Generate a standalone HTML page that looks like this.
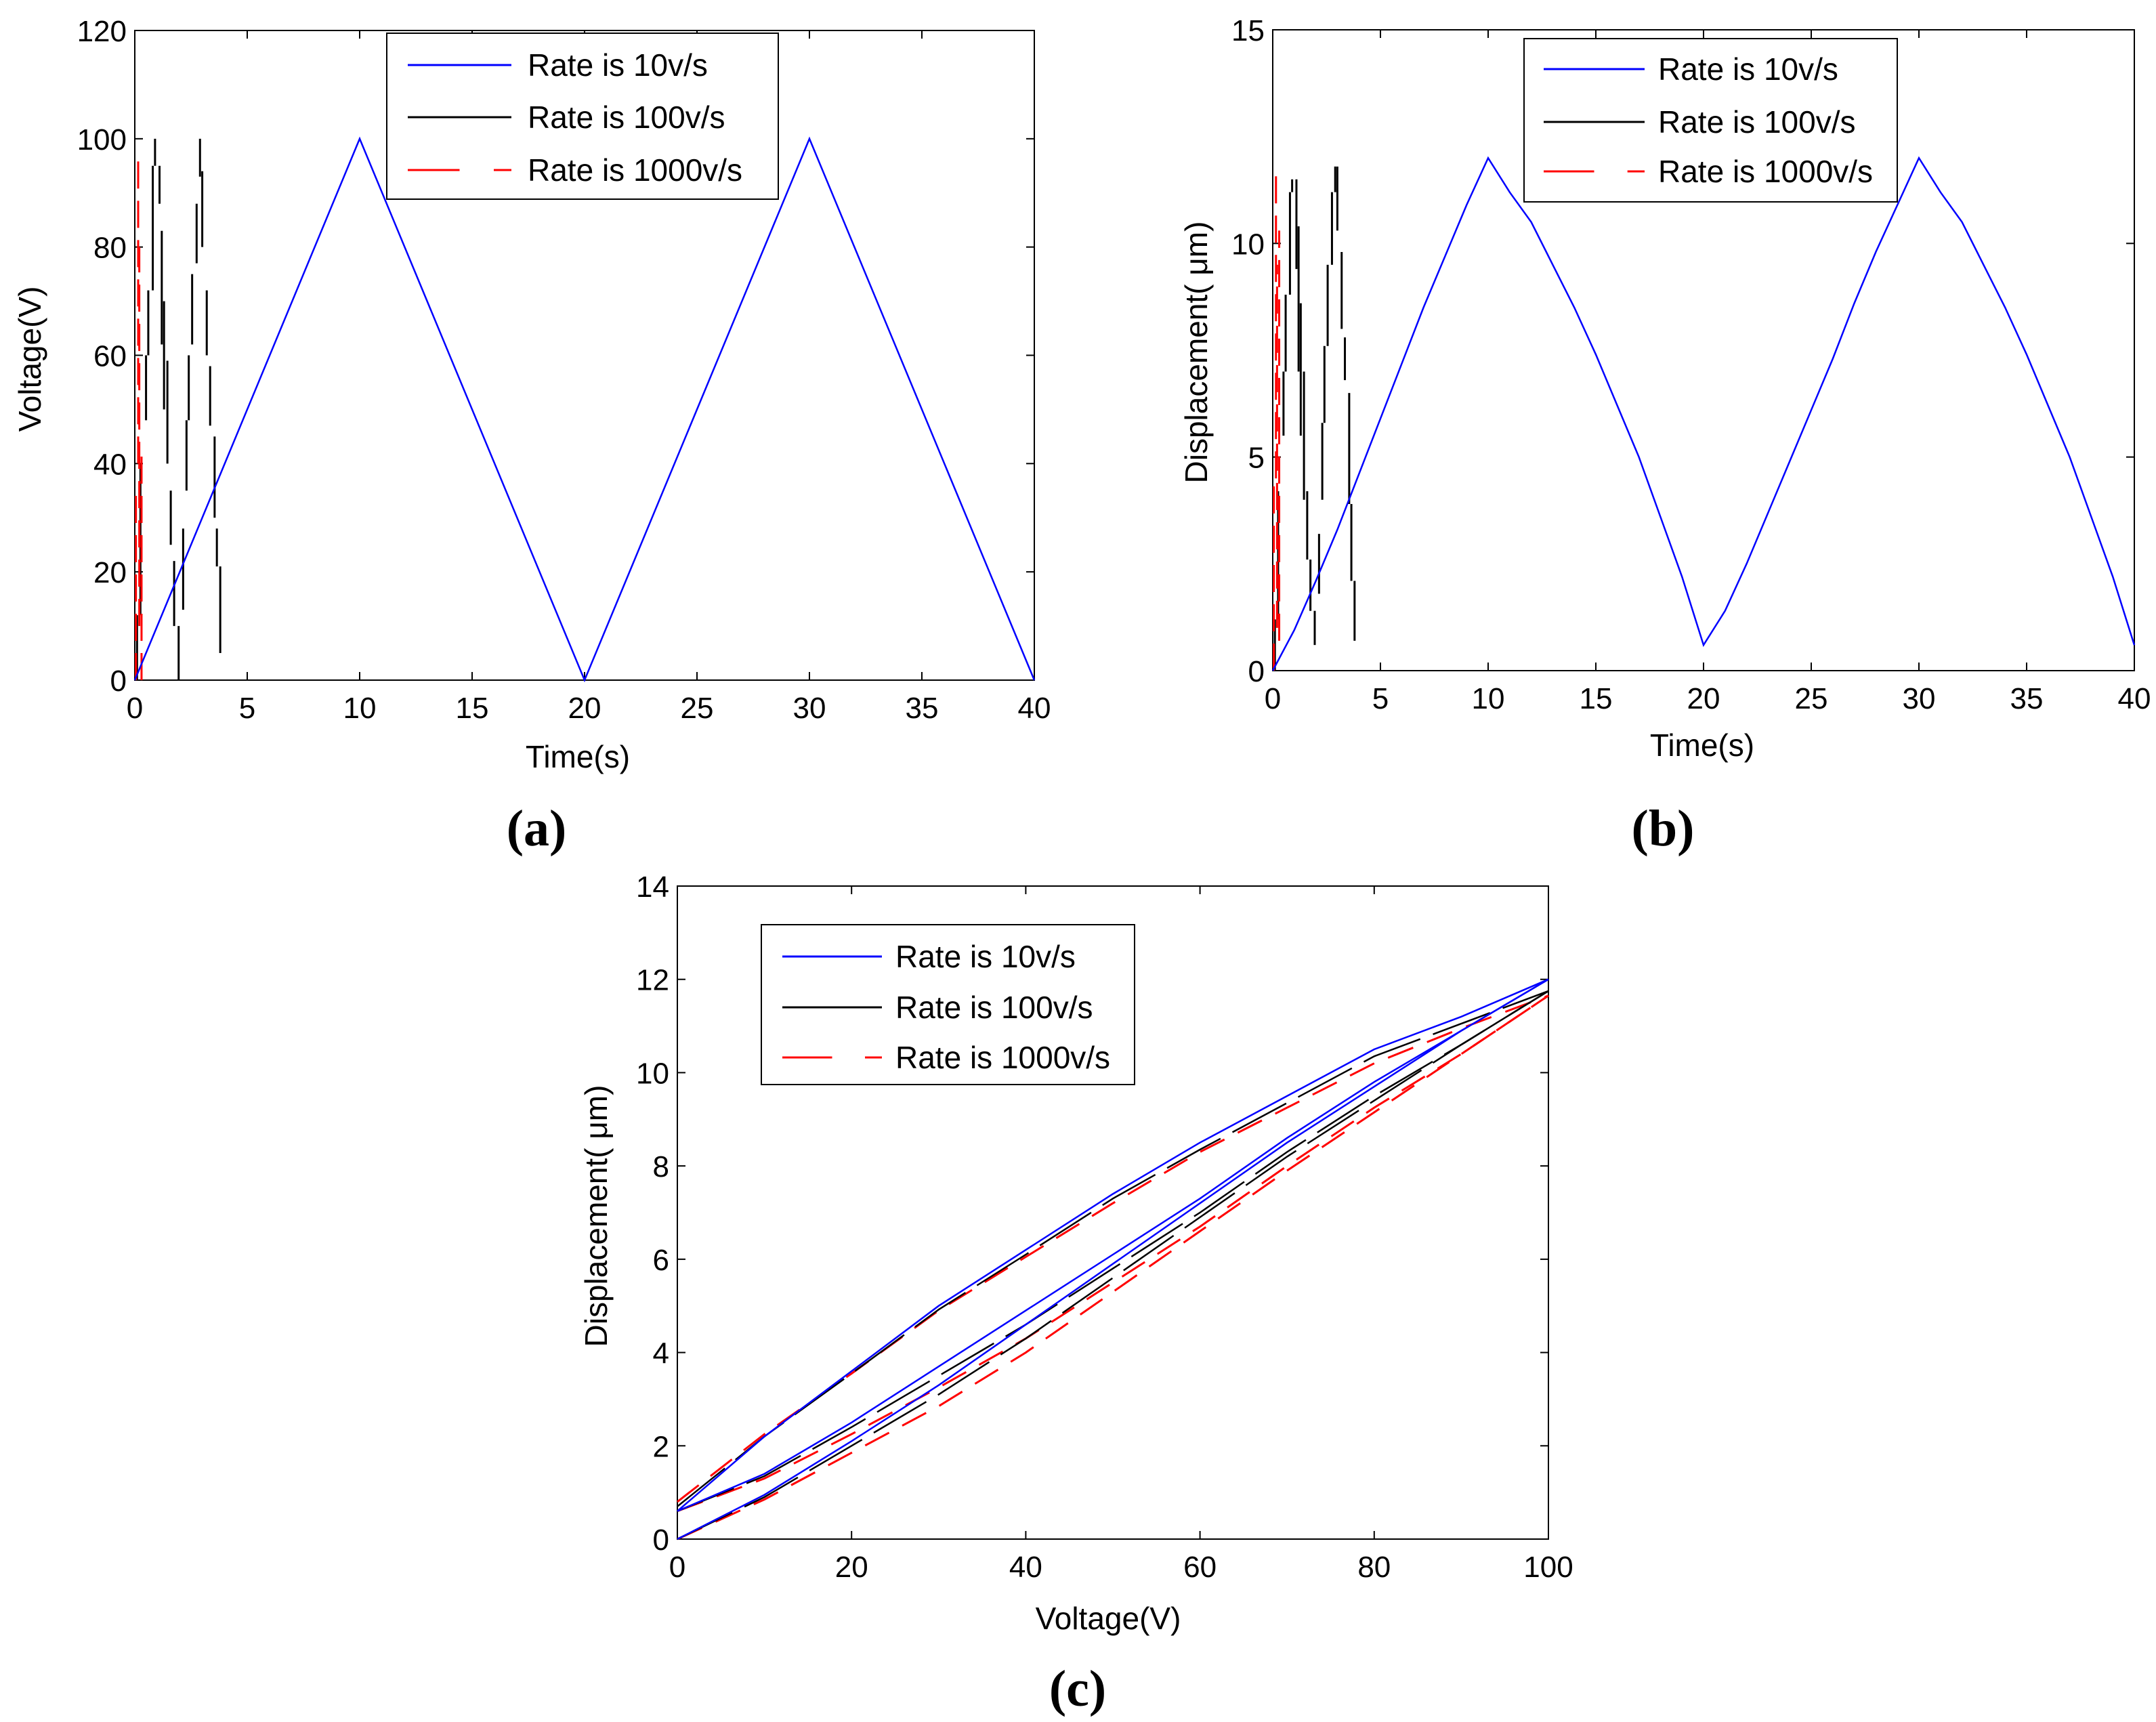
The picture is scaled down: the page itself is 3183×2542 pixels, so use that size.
<!DOCTYPE html>
<html><head><meta charset="utf-8">
<style>
html,body{margin:0;padding:0;background:#fff;}
svg{display:block;}
text{font-family:"Liberation Sans",sans-serif;fill:#000;}
.tick{font-size:44px;}
.lab{font-size:46px;}
.cap{font-family:"Liberation Serif",serif;font-weight:bold;font-size:76px;}
.leg{font-size:46px;}
</style></head>
<body>
<svg id="fig" width="3183" height="2542" viewBox="0 0 3183 2542" xmlns="http://www.w3.org/2000/svg">
<rect x="0" y="0" width="3183" height="2542" fill="#fff"/>
</svg>
<script>
// ---- data ----
const aBlueT = [0, 10, 20, 30, 40];
const aBlueV = [0, 100, 0, 100, 0];
const aBlackT  = [0.1, 0.25, 0.5, 0.6, 0.8, 0.9, 1.1, 1.2, 1.3, 1.45, 1.6, 1.75, 1.95, 2.15, 2.3, 2.4, 2.55, 2.75, 2.9, 3.0, 3.2, 3.35, 3.55, 3.65, 3.8];
const aBlackV0 = [0, 12, 48, 60, 72, 95, 95, 83, 70, 59, 35, 22, 10, 13, 35, 48, 62, 77, 93, 94, 72, 58, 45, 28, 21];
const aBlackV1 = [12, 40, 60, 72, 95, 100, 88, 62, 50, 40, 25, 10, 0, 28, 48, 60, 75, 88, 100, 80, 60, 47, 30, 21, 5];
const aRedT  = [0.05, 0.15, 0.2, 0.3];
const aRedV0 = [0, 40, 10, 0];
const aRedV1 = [35, 98, 80, 42];
const voltSteps   = [0, 10, 20, 30, 40, 50, 60, 70, 80, 90, 100];
const ascFirst    = [0, 0.95, 2.1, 3.3, 4.6, 5.9, 7.2, 8.5, 9.7, 10.9, 12.0];
const descending  = [0.6, 2.2, 3.6, 5.0, 6.2, 7.4, 8.5, 9.5, 10.5, 11.2, 12.0];
const ascSecond   = [0.6, 1.4, 2.5, 3.7, 4.9, 6.1, 7.3, 8.6, 9.8, 10.9, 12.0];
const blackOffsetAsc = [0, 0.05, 0.1, 0.2, 0.3, 0.3, 0.3, 0.3, 0.3, 0.3, 0.25];
const redOffsetAsc   = [0, 0.1, 0.25, 0.45, 0.6, 0.6, 0.6, 0.6, 0.55, 0.5, 0.35];
const blackOffsetDesc= [-0.1, 0, 0.05, 0.08, 0.1, 0.1, 0.15, 0.15, 0.15, 0.15, 0.25];
const redOffsetDesc  = [-0.2, -0.05, 0.05, 0.1, 0.15, 0.2, 0.2, 0.25, 0.3, 0.25, 0.35];
const bBlackT  = [0.1, 0.25, 0.5, 0.6, 0.8, 0.9, 1.1, 1.2, 1.3, 1.45, 1.6, 1.75, 1.95, 2.15, 2.3, 2.4, 2.55, 2.75, 2.9, 3.0, 3.2, 3.35, 3.55, 3.65, 3.8];
const bBlackV0 = [0, 1.2, 5.5, 7.0, 8.8, 11.2, 11.5, 10.4, 8.6, 7.0, 4.2, 2.6, 1.4, 1.8, 4.0, 5.8, 7.6, 9.5, 11.2, 11.8, 9.8, 7.8, 6.5, 3.9, 2.1];
const bBlackV1 = [1.2, 4.2, 7.0, 8.8, 11.2, 11.5, 9.4, 7.0, 5.5, 4.0, 2.6, 1.4, 0.6, 3.2, 5.8, 7.6, 9.5, 11.2, 11.8, 10.3, 8.0, 6.8, 3.9, 2.1, 0.7];
const bRedT  = [0.05, 0.15, 0.2, 0.3];
const bRedV0 = [0, 4.5, 1.0, 0.7];
const bRedV1 = [4.5, 11.7, 9.5, 10.3];
const aXTicks = [0, 5, 10, 15, 20, 25, 30, 35, 40];
const aYTicks = [0, 20, 40, 60, 80, 100, 120];
const bYTicks = [0, 5, 10, 15];
const cXTicks = [0, 20, 40, 60, 80, 100];
const cYTicks = [0, 2, 4, 6, 8, 10, 12, 14];
const legendLabels = ["Rate is  10v/s", "Rate is  100v/s", "Rate is  1000v/s"];

const NS = "http://www.w3.org/2000/svg";
const fig = document.getElementById("fig");
function mk(tag, attrs, parent) {
  const e = document.createElementNS(NS, tag);
  for (const k in attrs) e.setAttribute(k, attrs[k]);
  (parent || fig).appendChild(e);
  return e;
}
function makePanel(name, x0, x1, yb, yt, xmin, xmax, ymin, ymax) {
  const g = mk("g", {});
  
  
  return {g, sx: v => x0 + (v - xmin) / (xmax - xmin) * (x1 - x0),
          sy: v => yb - (v - ymin) / (ymax - ymin) * (yb - yt), x0, x1, yb, yt};
}
function frame(P, xt, yt) {
  const r = mk("rect", {x: P.x0, y: P.yt, width: P.x1 - P.x0, height: P.yb - P.yt, fill: "none", stroke: "#000", "stroke-width": 2}, P.g);
  
  
  xt.forEach(v => {
    const x = P.sx(v);
    mk("line", {x1: x, x2: x, y1: P.yb, y2: P.yb - 12, stroke: "#000", "stroke-width": 2}, P.g);
    mk("line", {x1: x, x2: x, y1: P.yt, y2: P.yt + 12, stroke: "#000", "stroke-width": 2}, P.g);
    const t = mk("text", {x: x, y: P.yb + 56, "text-anchor": "middle", class: "tick"}, P.g);
    t.textContent = v;
    
    
  });
  yt.forEach(v => {
    const y = P.sy(v);
    mk("line", {x1: P.x0, x2: P.x0 + 12, y1: y, y2: y, stroke: "#000", "stroke-width": 2}, P.g);
    mk("line", {x1: P.x1, x2: P.x1 - 12, y1: y, y2: y, stroke: "#000", "stroke-width": 2}, P.g);
    const t = mk("text", {x: P.x0 - 12, y: y + 16, "text-anchor": "end", class: "tick"}, P.g);
    t.textContent = v;
    
    
  });
}
function line(P, xs, ys, color, w, dash, name) {
  const pts = xs.map((x, i) => P.sx(x).toFixed(1) + "," + P.sy(ys[i]).toFixed(1)).join(" ");
  const p = mk("polyline", {points: pts, fill: "none", stroke: color, "stroke-width": w}, P.g);
  if (dash) p.setAttribute("stroke-dasharray", dash);
  
  
}
function segs(P, ts, v0, v1, color, dash, name) {
  ts.forEach((t, i) => {
    const l = mk("line", {x1: P.sx(t), x2: P.sx(t), y1: P.sy(v0[i]), y2: P.sy(v1[i]), stroke: color, "stroke-width": 3}, P.g);
    if (dash) l.setAttribute("stroke-dasharray", dash);
    
    
  });
}
function legend(P, bx, by, bw, bh, ys, lx0, lx1, tx) {
  const g = mk("g", {}, P.g);
  
  
  mk("rect", {x: bx, y: by, width: bw, height: bh, fill: "#fff", stroke: "#000", "stroke-width": 2}, g);
  const cols = ["#0000ff", "#000", "#ff0000"];
  ys.forEach((y, i) => {
    const l = mk("line", {x1: lx0, x2: lx1, y1: y, y2: y, stroke: cols[i], "stroke-width": 3}, g);
    if (i === 2) l.setAttribute("stroke-dasharray", (lx1 - lx0) * 0.5 + " " + (lx1 - lx0) * 0.33);
    
    
    const t = mk("text", {x: tx, y: y + 16, class: "leg"}, g);
    t.textContent = legendLabels[i];
    
    
  });
}
function text(x, y, s, cls, rot, name) {
  const t = mk("text", {x: x, y: y, "text-anchor": "middle", class: cls});
  if (rot) t.setAttribute("transform", "rotate(-90 " + x + " " + y + ")");
  t.textContent = s;
  
  
}

const A = makePanel("panel-a", 199, 1527, 1004, 45, 0, 40, 0, 120);
frame(A, aXTicks, aYTicks);
segs(A, aBlackT, aBlackV0, aBlackV1, "#000", null, "series-100vs");
segs(A, aRedT, aRedV0, aRedV1, "#ff0000", "40 18", "series-1000vs");
line(A, aBlueT, aBlueV, "#0000ff", 2.5, null, "series-10vs");
legend(A, 571, 49, 578, 245, [96, 173, 251], 602, 755, 779);
text(853, 1133, "Time(s)", "lab", false, "x-axis-title-a");
text(60, 530, "Voltage(V)", "lab", true, "y-axis-title-a");
text(792, 1248, "(a)", "cap", false, "caption-a");

const B = makePanel("panel-b", 1879, 3151, 990, 44, 0, 40, 0, 15);
frame(B, aXTicks, bYTicks);
segs(B, bBlackT, bBlackV0, bBlackV1, "#000", null, "series-100vs");
segs(B, bRedT, bRedV0, bRedV1, "#ff0000", "40 18", "series-1000vs");
const timeSteps = voltSteps.map(v => v / 10);
const bT = [], bD = [];
timeSteps.forEach((t, i) => { bT.push(t); bD.push(ascFirst[i]); });
timeSteps.forEach((t, i) => { bT.push(10 + t); bD.push(descending[10 - i]); });
timeSteps.forEach((t, i) => { bT.push(20 + t); bD.push(ascSecond[i]); });
timeSteps.forEach((t, i) => { bT.push(30 + t); bD.push(descending[10 - i]); });
line(B, bT, bD, "#0000ff", 2.5, null, "series-10vs");
legend(B, 2250, 57, 551, 241, [102, 180, 253], 2279, 2428, 2448);
text(2513, 1116, "Time(s)", "lab", false, "x-axis-title-b");
text(1782, 520, "Displacement( \u03bcm)", "lab", true, "y-axis-title-b");
text(2455, 1248, "(b)", "cap", false, "caption-b");

const C = makePanel("panel-c", 1000, 2286, 2272, 1308, 0, 100, 0, 14);
frame(C, cXTicks, cYTicks);
const sub = (a, b) => a.map((v, i) => v - b[i]);
line(C, voltSteps, sub(ascFirst, redOffsetAsc), "#ff0000", 3, "40 22", "series-1000vs-ascending");
line(C, voltSteps, sub(ascSecond, redOffsetAsc), "#ff0000", 3, "40 22", "series-1000vs-ascending-2");
line(C, voltSteps, sub(descending, redOffsetDesc), "#ff0000", 3, "40 22", "series-1000vs-descending");
line(C, voltSteps, sub(ascFirst, blackOffsetAsc), "#000", 2.5, "90 20", "series-100vs-ascending");
line(C, voltSteps, sub(ascSecond, blackOffsetAsc), "#000", 2.5, "90 20", "series-100vs-ascending-2");
line(C, voltSteps, sub(descending, blackOffsetDesc), "#000", 2.5, "90 20", "series-100vs-descending");
line(C, voltSteps, ascFirst, "#0000ff", 2.5, null, "series-10vs-ascending");
line(C, voltSteps, ascSecond, "#0000ff", 2.5, null, "series-10vs-ascending-2");
line(C, voltSteps, descending, "#0000ff", 2.5, null, "series-10vs-descending");
legend(C, 1124, 1365, 551, 236, [1412, 1487, 1561], 1155, 1302, 1322);
text(1636, 2405, "Voltage(V)", "lab", false, "x-axis-title-c");
text(896, 1795, "Displacement( \u03bcm)", "lab", true, "y-axis-title-c");
text(1591, 2518, "(c)", "cap", false, "caption-c");
</script>
</body></html>
